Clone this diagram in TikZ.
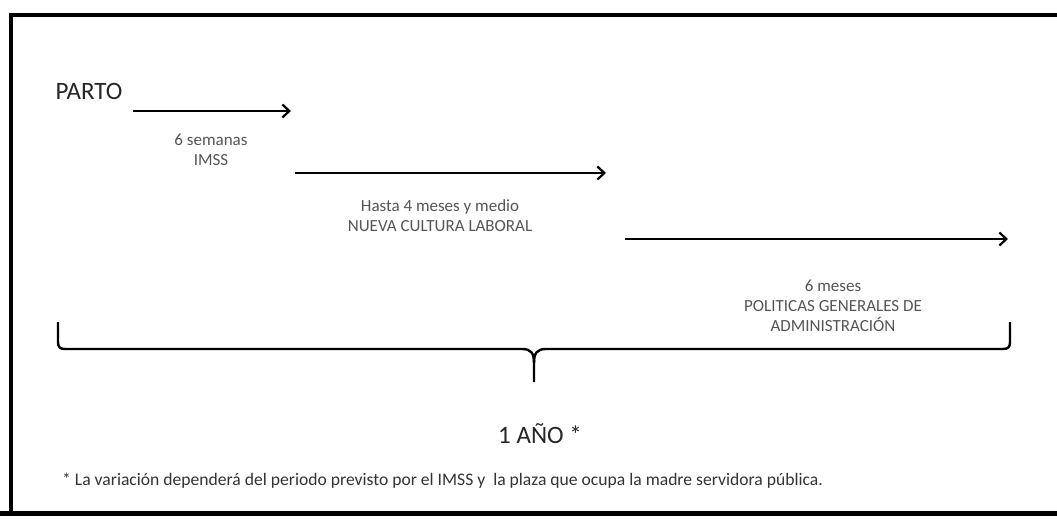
\documentclass[tikz,border=0pt]{standalone}
\usepackage{fontspec}
\setmainfont{Carlito}
\usetikzlibrary{arrows.meta}
\definecolor{labelgray}{HTML}{555555}
\definecolor{notegray}{HTML}{333333}
\tikzset{
  frameline/.style={line width=4pt, black},
  period/.style={line width=2.4pt, black, -{Straight Barb[length=7pt,width=13pt,line width=2.2pt]}},
  bracepath/.style={line width=2.4pt, black, line join=round},
  bigtext/.style={font=\fontsize{25}{29}\selectfont, text=black!85, inner sep=0pt},
  smalltext/.style={font=\fontsize{17}{20}\selectfont, text=labelgray, align=center, inner sep=0pt},
  notetext/.style={font=\fontsize{17.6}{20}\selectfont, text=notegray, inner sep=0pt, anchor=west}
}
\begin{document}
\begin{tikzpicture}[x=1pt,y=-1pt]
\useasboundingbox (0,0) rectangle (1057,521);
\fill[white] (0,0) rectangle (1057,521);
% frame
\coordinate (ftr) at (1057,15);
\coordinate (ftl) at (11,15);
\coordinate (fbl) at (11,513);
\coordinate (bl) at (0,513);
\coordinate (br) at (1057,513);
\draw[frameline] (ftr) -- (ftl) -- (fbl);
\draw[frameline, line width=5pt] (bl) -- (br);
% texts
\node[bigtext] (parto) at (89,91) {PARTO};
\coordinate (a1s) at (133,111); \coordinate (a1e) at (291,111);
\coordinate (a2s) at (295,173); \coordinate (a2e) at (606,173);
\coordinate (a3s) at (625,239); \coordinate (a3e) at (1008,239);
\draw[period] (a1s) -- (a1e);
\draw[period] (a2s) -- (a2e);
\draw[period] (a3s) -- (a3e);
\node[smalltext] (imss) at (211,150) {6 semanas\\IMSS};
\node[smalltext] (ncl) at (440,216) {Hasta 4 meses y medio\\NUEVA CULTURA LABORAL};
\node[smalltext] (pga) at (833,306) {6 meses\\POLITICAS GENERALES DE\\ADMINISTRACIÓN};
% brace
\coordinate (bl1) at (58,322);
\coordinate (br1) at (1010,322);
\coordinate (btip) at (534,382);
\draw[bracepath] (bl1) -- (58,342) .. controls (58,347) and (60,349) .. (65,349)
  -- (522,349) .. controls (531,349) and (534,353) .. (534,363) -- (btip);
\draw[bracepath] (534,363) .. controls (534,353) and (537,349) .. (546,349)
  -- (1003,349) .. controls (1008,349) and (1010,347) .. (1010,342) -- (br1);
\node[bigtext] (anio) at (540,434) {1 AÑO *};
\node[notetext] (note) at (62,481) {* La variación dependerá del periodo previsto por el IMSS y\ \ la plaza que ocupa la madre servidora pública.};
\end{tikzpicture}
\end{document}
